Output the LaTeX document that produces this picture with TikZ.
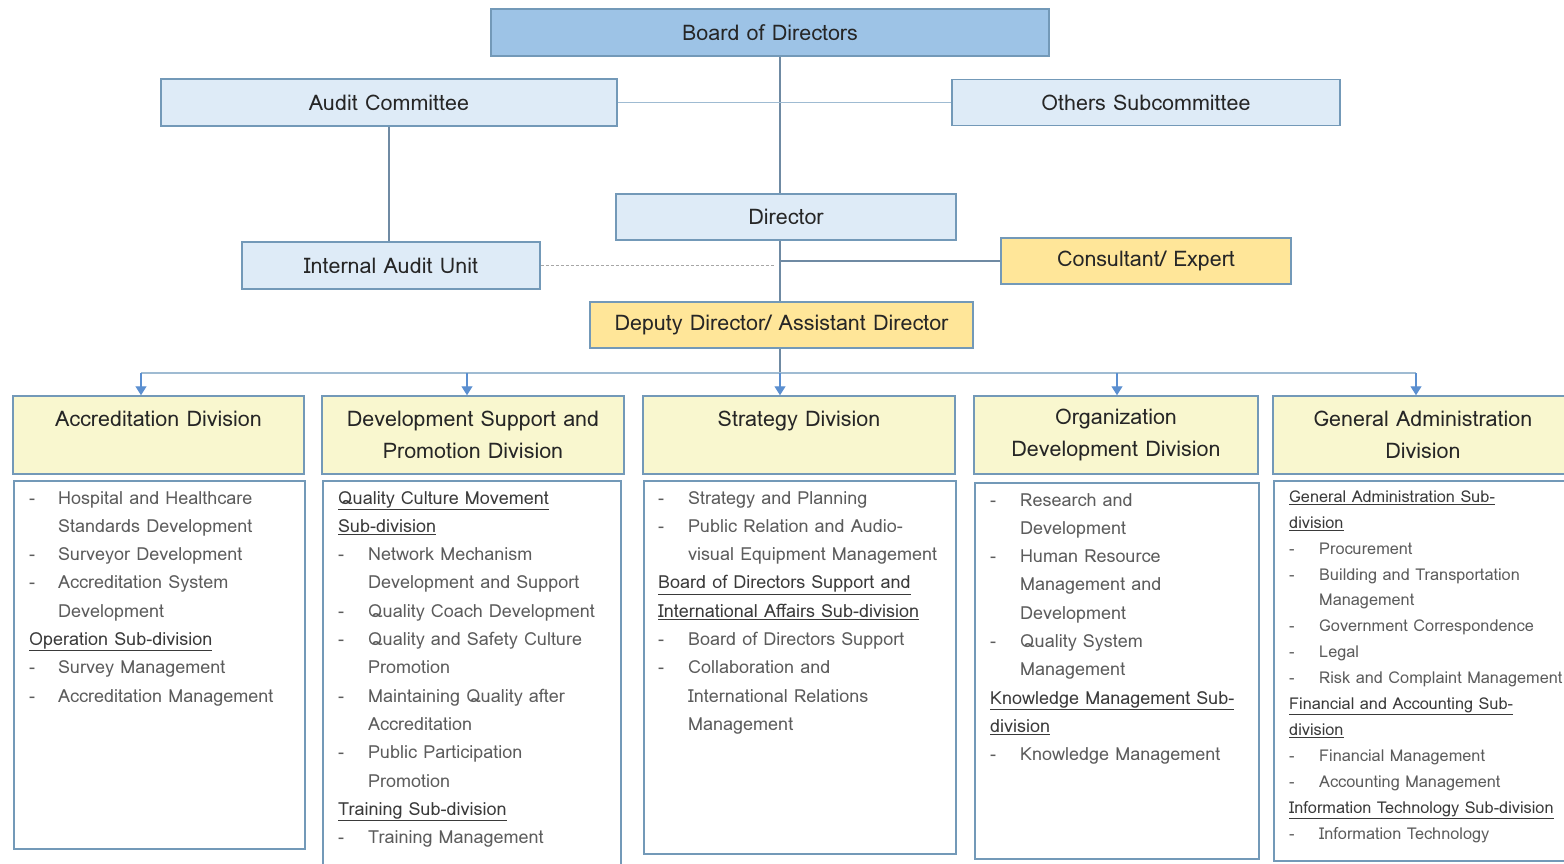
\documentclass[tikz,border=0pt]{standalone}
\usepackage{fontspec}
\setmainfont{Loma}
\usetikzlibrary{%
    arrows.meta,
    calc,
    positioning
}
\definecolor{boardblue}{HTML}{9DC3E6}
\definecolor{paleblue}{HTML}{DEEBF7}
\definecolor{advisoryellow}{HTML}{FFE699}
\definecolor{divyellow}{HTML}{F9F7CF}
\definecolor{edgeblue}{HTML}{7399B8}
\definecolor{wireblue}{HTML}{9FBBD2}
\definecolor{trunkgrey}{HTML}{6F8AA3}
\definecolor{arrowblue}{HTML}{5B8FD0}
\definecolor{bodygrey}{HTML}{5C5C5C}
\definecolor{headgrey}{HTML}{3A3A3A}

\tikzset{
    unit/.style = {draw=edgeblue, line width=1.5pt, inner sep=0pt,
                   text=black!85, font=\fontsize{21.5}{24}\selectfont},
    boardbox/.style = {unit, fill=boardblue},
    officebox/.style = {unit, fill=paleblue},
    advisorbox/.style = {unit, fill=advisoryellow},
    divhead/.style = {unit, fill=divyellow, align=center,
                      font=\fontsize{21.5}{32}\selectfont},
    divbody/.style = {draw=edgeblue, line width=1.5pt, fill=white, inner sep=0pt},
    bodytext/.style = {anchor=north west, inner sep=0pt, text=bodygrey,
                       font=\fontsize{18}{28.3}\selectfont},
    wire/.style = {draw=wireblue, line width=1.2pt},
    trunk/.style = {draw=trunkgrey, line width=1.2pt},
    dashlink/.style = {draw=gray!70, line width=1pt, dash pattern=on 3pt off 2pt},
    headarrow/.style = {draw=arrowblue, line width=1.2pt,
                        -{Triangle[width=11pt,length=9pt]}}
}
\newcommand{\subdiv}[1]{\multicolumn{2}{@{}l@{}}{\textcolor{headgrey}{\underline{#1}}}}

\begin{document}
\begin{tikzpicture}[x=1pt, y=-1pt]
    \useasboundingbox[fill=white] (0,0) rectangle (1564,863);

    % board, committees, director
    \node[boardbox, minimum width=558pt, minimum height=47pt] (board) at (770,32.5) {Board of Directors};
    \node[officebox, minimum width=456pt, minimum height=47pt] (audit) at (389,102.5) {Audit Committee};
    \node[officebox, minimum width=388pt, minimum height=46pt] (others) at (1146,102.5) {Others Subcommittee};
    \node[officebox, minimum width=340pt, minimum height=46pt] (dir) at (786,217) {Director};
    \node[officebox, minimum width=298pt, minimum height=47pt] (iau) at (391,265.5) {Internal Audit Unit};
    \node[advisorbox, minimum width=290pt, minimum height=46pt] (cons) at (1146,261) {Consultant/ Expert};
    \node[advisorbox, minimum width=383pt, minimum height=46pt] (dep) at (781.5,325) {Deputy Director/ Assistant Director};

    \coordinate (spine) at (780,0);
    \coordinate (bus) at (0,373);

    \draw[trunk] (board.south -| spine) -- (dir.north -| spine);
    \draw[wire] (audit.east) -- (others.west);
    \draw[trunk] (audit.south) -- (audit.south |- iau.north);
    \draw[trunk] (dir.south -| spine) -- (dep.north -| spine);
    \draw[trunk] (cons.west) -- (cons.west -| spine);
    \draw[dashlink] (iau.east) -- ($(iau.east -| spine) + (-5,0)$);
    \draw[trunk] (dep.south -| spine) -- (spine |- bus);

    % divisions
    \node[divhead, minimum width=291pt, minimum height=78pt] (d1) at (158.5,435) {Accreditation Division\\~};
    \node[divhead, minimum width=302pt, minimum height=78pt] (d2) at (473,435) {Development Support and\\Promotion Division};
    \node[divhead, minimum width=312pt, minimum height=78pt] (d3) at (799,435) {Strategy Division\\~};
    \node[divhead, minimum width=284pt, minimum height=78pt] (d4) at (1116,435) {Organization\\Development Division};
    \node[divhead, minimum width=300pt, minimum height=78pt] (d5) at (1423,435) {General Administration\\Division};

    \foreach \Name/\X in {d1/141, d2/467, d3/780, d4/1117, d5/1416}
        \coordinate (a-\Name) at (\X,373);
    \draw[wire] (a-d1) -- (a-d5);
    \foreach \Name in {d1,d2,d3,d4,d5}
        \draw[headarrow] (a-\Name) -- (a-\Name |- \Name.north);

    % division bodies
    \node[divbody, minimum width=291pt, minimum height=368pt, anchor=north west] (b1) at (13,480) {};
    \node[divbody, minimum width=298pt, minimum height=400pt, anchor=north west] (b2) at (322,480) {};
    \node[divbody, minimum width=312pt, minimum height=373pt, anchor=north west] (b3) at (643,480) {};
    \node[divbody, minimum width=284pt, minimum height=376pt, anchor=north west] (b4) at (974,482) {};
    \node[divbody, minimum width=300pt, minimum height=380pt, anchor=north west] (b5) at (1273,480) {};

    \node[bodytext] (t1) at ([shift={(16,4)}]b1.north west) {%
        \begin{tabular}{@{}p{29pt}@{}l@{}}
        - & Hospital and Healthcare\\
          & Standards Development\\
        - & Surveyor Development\\
        - & Accreditation System\\
          & Development\\
        \subdiv{Operation Sub-division}\\
        - & Survey Management\\
        - & Accreditation Management
        \end{tabular}};
    \node[bodytext] (t2) at ([shift={(16,4)}]b2.north west) {%
        \begin{tabular}{@{}p{30pt}@{}l@{}}
        \subdiv{Quality Culture Movement}\\
        \subdiv{Sub-division}\\
        - & Network Mechanism\\
          & Development and Support\\
        - & Quality Coach Development\\
        - & Quality and Safety Culture\\
          & Promotion\\
        - & Maintaining Quality after\\
          & Accreditation\\
        - & Public Participation\\
          & Promotion\\
        \subdiv{Training Sub-division}\\
        - & Training Management
        \end{tabular}};
    \node[bodytext] (t3) at ([shift={(15,4)}]b3.north west) {%
        \begin{tabular}{@{}p{30pt}@{}l@{}}
        - & Strategy and Planning\\
        - & Public Relation and Audio-\\
          & visual Equipment Management\\
        \subdiv{Board of Directors Support and}\\
        \subdiv{International Affairs Sub-division}\\
        - & Board of Directors Support\\
        - & Collaboration and\\
          & International Relations\\
          & Management
        \end{tabular}};
    \node[bodytext] (t4) at ([shift={(16,4)}]b4.north west) {%
        \begin{tabular}{@{}p{30pt}@{}l@{}}
        - & Research and\\
          & Development\\
        - & Human Resource\\
          & Management and\\
          & Development\\
        - & Quality System\\
          & Management\\
        \subdiv{Knowledge Management Sub-}\\
        \subdiv{division}\\
        - & Knowledge Management
        \end{tabular}};
    \node[bodytext, font=\fontsize{16.3}{25.9}\selectfont] (t5) at ([shift={(16,4)}]b5.north west) {%
        \begin{tabular}{@{}p{30pt}@{}l@{}}
        \subdiv{General Administration Sub-}\\
        \subdiv{division}\\
        - & Procurement\\
        - & Building and Transportation\\
          & Management\\
        - & Government Correspondence\\
        - & Legal\\
        - & Risk and Complaint Management\\
        \subdiv{Financial and Accounting Sub-}\\
        \subdiv{division}\\
        - & Financial Management\\
        - & Accounting Management\\
        \subdiv{Information Technology Sub-division}\\
        - & Information Technology
        \end{tabular}};
\end{tikzpicture}
\end{document}
